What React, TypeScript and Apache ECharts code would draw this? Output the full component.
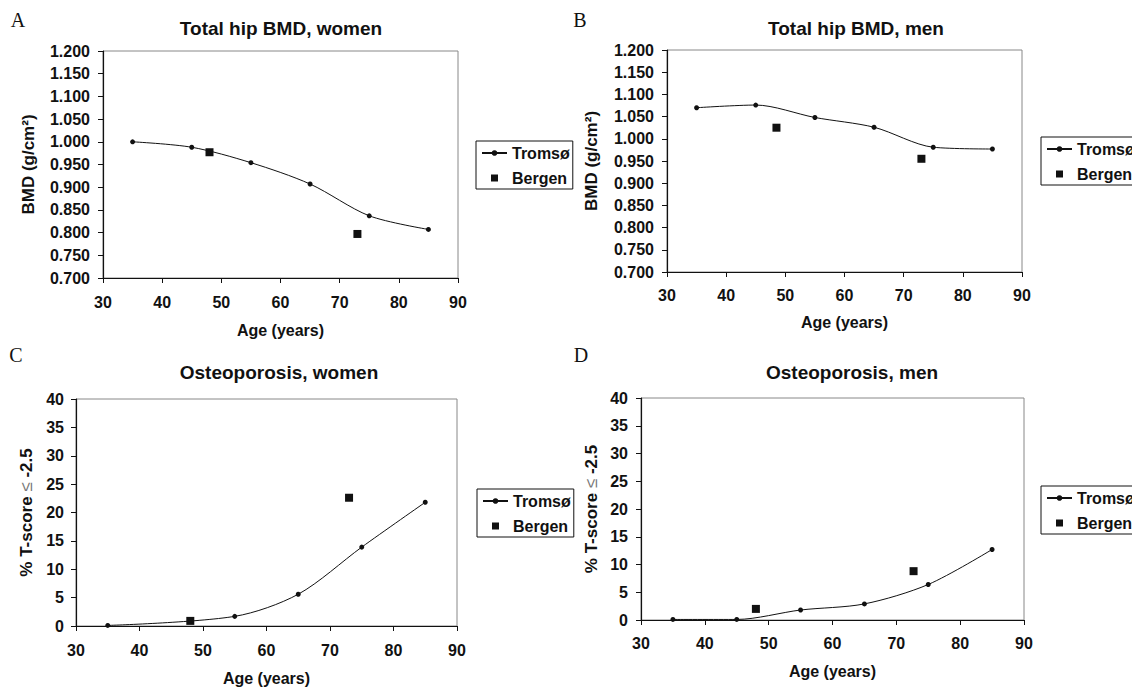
import React, { useEffect, useRef } from "react";
import * as echarts from "echarts";

const FONT = '"Liberation Sans", Arial, Helvetica, sans-serif';
const SERIF = '"Liberation Serif", "Times New Roman", serif';

// ---- data ----
const tromsoAges = [35, 45, 55, 65, 75, 85];
const tromsoAgesWomenOsteo = [35, 55, 65, 75, 85];
const tromsoWomenBMD = [1.0, 0.988, 0.954, 0.907, 0.837, 0.807];
const tromsoMenBMD = [1.07, 1.076, 1.048, 1.026, 0.981, 0.977];
const tromsoWomenOsteo = [0.1, 1.7, 5.6, 13.9, 21.8];
const tromsoMenOsteo = [0.1, 0.1, 1.8, 2.9, 6.4, 12.7];

const bergenAgesWomenBMD = [48, 73];
const bergenWomenBMD = [0.977, 0.797];
const bergenAgesMenBMD = [48.5, 73];
const bergenMenBMD = [1.025, 0.955];
const bergenAgesWomenOsteo = [48, 73];
const bergenWomenOsteo = [0.9, 22.6];
const bergenAgesMenOsteo = [48, 72.7];
const bergenMenOsteo = [2.0, 8.8];

const panelLetters = ["A", "B", "C", "D"];
const panelTitles = [
  "Total hip BMD, women",
  "Total hip BMD, men",
  "Osteoporosis, women",
  "Osteoporosis, men",
];
const seriesNames = ["Tromsø", "Bergen"];
const xAxisName = "Age (years)";
const bmdAxisName = "BMD (g/cm²)";
const osteoAxisName = "% T-score {le|≤} -2.5";

// ---- layout ----
const panels = [
  {
    grid: { left: 103, top: 51, width: 355, height: 227 },
    titlePos: [281, 28], letterPos: [18, 20], legendPos: [476, 141],
    yGap: 66, yLabelMargin: 13, xLabelMargin: 16, xGap: 44,
    kind: "bmd",
    tAges: tromsoAges, tVals: tromsoWomenBMD,
    bAges: bergenAgesWomenBMD, bVals: bergenWomenBMD,
  },
  {
    grid: { left: 667, top: 50, width: 355, height: 222 },
    titlePos: [856, 28], letterPos: [580, 20], legendPos: [1041, 137],
    yGap: 67, yLabelMargin: 13, xLabelMargin: 15, xGap: 42,
    kind: "bmd",
    tAges: tromsoAges, tVals: tromsoMenBMD,
    bAges: bergenAgesMenBMD, bVals: bergenMenBMD,
  },
  {
    grid: { left: 76, top: 399, width: 381, height: 227 },
    titlePos: [279, 372], letterPos: [16, 355], legendPos: [477, 489],
    yGap: 41, yLabelMargin: 12, xLabelMargin: 16, xGap: 44,
    kind: "osteo",
    tAges: tromsoAgesWomenOsteo, tVals: tromsoWomenOsteo,
    bAges: bergenAgesWomenOsteo, bVals: bergenWomenOsteo,
  },
  {
    grid: { left: 641, top: 398, width: 383, height: 222 },
    titlePos: [852, 372], letterPos: [581, 355], legendPos: [1041, 486],
    yGap: 41, yLabelMargin: 13, xLabelMargin: 15, xGap: 43,
    kind: "osteo",
    tAges: tromsoAges, tVals: tromsoMenOsteo,
    bAges: bergenAgesMenOsteo, bVals: bergenMenOsteo,
  },
];

const INK = "#111";
const SQUARE_ICON = "path://M0,0L10,0L10,10L0,10Z";

export default function App() {
  const ref = useRef<HTMLDivElement>(null);

  useEffect(() => {
    if (!ref.current) return;
    const chart = echarts.init(ref.current, undefined, { renderer: "svg" });

    const grids: any[] = [];
    const xAxes: any[] = [];
    const yAxes: any[] = [];
    const series: any[] = [];
    const legends: any[] = [];
    const graphics: any[] = [];

    panels.forEach((p, i) => {
      grids.push({
        ...p.grid,
        show: true,
        borderColor: "#888",
        borderWidth: 1,
        backgroundColor: "#fff",
      });
      xAxes.push({
        type: "value",
        gridIndex: i,
        min: 30,
        max: 90,
        interval: 10,
        axisLine: { show: true, onZero: false, lineStyle: { color: INK, width: 1.2 } },
        axisTick: { show: true, inside: false, length: 5, lineStyle: { color: INK } },
        splitLine: { show: false },
        axisLabel: {
          fontSize: 16, fontWeight: "bold", color: INK, fontFamily: FONT,
          margin: p.xLabelMargin,
        },
        name: xAxisName,
        nameLocation: "middle",
        nameGap: p.xGap,
        nameTextStyle: { fontSize: 16, fontWeight: "bold", color: INK, fontFamily: FONT },
      });
      const isBmd = p.kind === "bmd";
      yAxes.push({
        type: "value",
        gridIndex: i,
        min: isBmd ? 0.7 : 0,
        max: isBmd ? 1.2 : 40,
        interval: isBmd ? 0.05 : 5,
        axisLine: { show: true, onZero: false, lineStyle: { color: INK, width: 1.2 } },
        axisTick: { show: true, inside: false, length: 5, lineStyle: { color: INK } },
        splitLine: { show: false },
        axisLabel: {
          fontSize: 16, fontWeight: "bold", color: INK, fontFamily: FONT,
          margin: p.yLabelMargin,
          formatter: isBmd ? (v: number) => v.toFixed(3) : (v: number) => String(Math.round(v)),
        },
        name: isBmd ? bmdAxisName : osteoAxisName,
        nameLocation: "middle",
        nameGap: p.yGap,
        nameRotate: 90,
        nameTextStyle: {
          fontSize: 17, fontWeight: "bold", color: INK, fontFamily: FONT,
          rich: {
            le: { fontSize: 17, fontWeight: "normal", color: "#777", fontFamily: FONT },
          },
        },
      });
      series.push({
        type: "line",
        name: seriesNames[0],
        xAxisIndex: i,
        yAxisIndex: i,
        data: p.tAges.map((a, j) => [a, p.tVals[j]]),
        smooth: 0.3,
        symbol: "circle",
        symbolSize: 5,
        showSymbol: true,
        lineStyle: { color: INK, width: 1 },
        itemStyle: { color: INK, opacity: 1 },
        z: 3,
      });
      series.push({
        type: "scatter",
        name: seriesNames[1],
        xAxisIndex: i,
        yAxisIndex: i,
        data: p.bAges.map((a, j) => [a, p.bVals[j]]),
        symbol: "rect",
        symbolSize: 8,
        itemStyle: { color: INK, opacity: 1 },
        z: 4,
      });
      legends.push({
        orient: "vertical",
        left: p.legendPos[0],
        top: p.legendPos[1],
        data: [
          { name: seriesNames[0] },
          { name: seriesNames[1], icon: SQUARE_ICON, itemStyle: { color: INK, opacity: 1 } },
        ],
        symbolKeepAspect: true,
        backgroundColor: "#fff",
        borderColor: INK,
        borderWidth: 1,
        padding: [3, 3, 2, 5],
        itemGap: 7,
        itemWidth: 25,
        itemHeight: 7,
        selectedMode: false,
        textStyle: { fontSize: 16, fontWeight: "bold", color: INK, fontFamily: FONT, lineHeight: 18 },
      });
      graphics.push({
        type: "text",
        x: p.titlePos[0],
        y: p.titlePos[1],
        style: {
          text: panelTitles[i],
          fontSize: 19, fontWeight: "bold", fontFamily: FONT, fill: INK,
          textAlign: "center", textVerticalAlign: "middle",
        },
      });
      graphics.push({
        type: "text",
        x: p.letterPos[0],
        y: p.letterPos[1],
        style: {
          text: panelLetters[i],
          fontSize: 20, fontFamily: SERIF, fill: INK,
          textAlign: "center", textVerticalAlign: "middle",
        },
      });
    });

    chart.setOption({
      animation: false,
      backgroundColor: "#fff",
      grid: grids,
      xAxis: xAxes,
      yAxis: yAxes,
      series,
      legend: legends,
      graphic: graphics,
    });

    return () => chart.dispose();
  }, []);

  return (
    <div
      ref={ref}
      style={{ position: "absolute", left: 0, top: 0, width: 1132, height: 691, background: "#fff" }}
    />
  );
}
